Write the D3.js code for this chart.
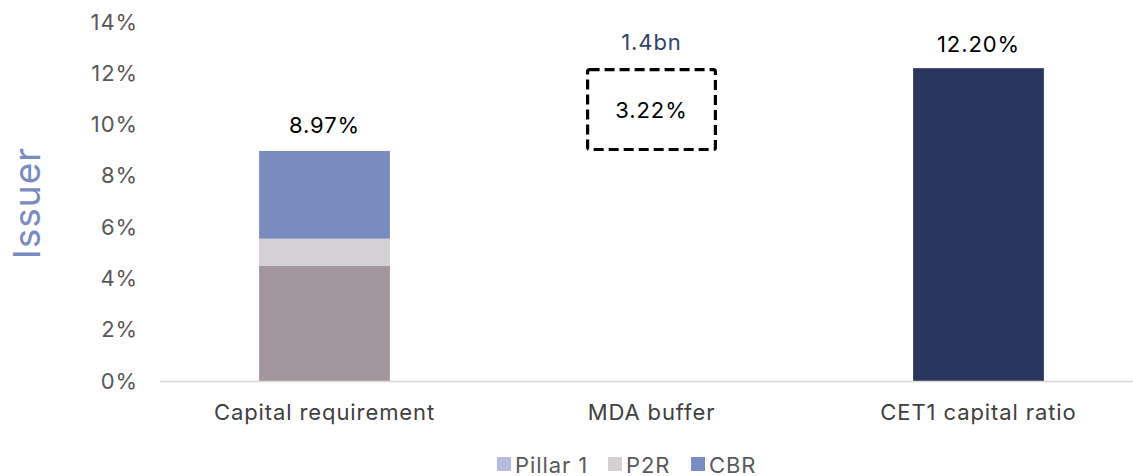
<!DOCTYPE html>
<html lang="en">
<head>
  <meta charset="UTF-8">
  <title>Issuer capital stack</title>
  <script src="https://d3js.org/d3.v7.min.js"></script>
  <style>
    body { margin: 0; background: #fff; font-family: Inter, "Noto Sans", sans-serif; }
    svg { display: block; }
    text { letter-spacing: 0.9px; }
  </style>
</head>
<body>
  <div id="chart"></div>
  <script>
    // categories along the x axis
    const categories = ["Capital requirement", "MDA buffer", "CET1 capital ratio"];

    // capital requirement stack (in %)
    const stackNames = ["Pillar 1", "P2R", "CBR"];
    const stackValues = [4.5, 1.05, 3.42];
    const stackColors = ["#a3979e", "#d5d0d4", "#7a8cbf"];

    // legend swatches as shown under the chart
    const legendNames = ["Pillar 1", "P2R", "CBR"];
    const legendColors = ["#b4bde0", "#d5d0d4", "#7a8cbf"];

    // MDA buffer floats between requirement and CET1 ratio
    const mdaFrom = 8.97;
    const mdaTo = 12.2;
    const mdaLabel = "3.22%";
    const mdaNote = "1.4bn";

    const cet1Value = 12.2;
    const totalLabels = ["8.97%", "12.20%"];

    const yTicks = [0, 2, 4, 6, 8, 10, 12, 14];

    const width = 1133, height = 476;
    const svg = d3.select("#chart").append("svg")
      .attr("width", width)
      .attr("height", height);

    const x = d3.scaleBand()
      .domain(categories)
      .range([161, 1142])
      .paddingInner(0.6)
      .paddingOuter(0.3);

    const y = d3.scaleLinear()
      .domain([0, 14])
      .range([381, 22]);

    // y axis labels
    const yAxis = svg.append("g")
      .attr("transform", "translate(138,0)")
      .call(d3.axisLeft(y).tickValues(yTicks).tickFormat(d => d + "%").tickSize(0).tickPadding(0));
    yAxis.select(".domain").remove();
    yAxis.selectAll("text")
      .attr("font-family", "Inter, sans-serif")
      .attr("font-size", 22)
      .attr("fill", "#595959");

    // y title
    svg.append("text")
      .attr("transform", "translate(40,203) rotate(-90)")
      .attr("text-anchor", "middle")
      .attr("font-size", 37)
      .attr("fill", "#7a8cbf")
      .style("letter-spacing", "1px")
      .text("Issuer");

    // stacked bar for capital requirement
    let acc = 0;
    const stackData = stackValues.map((v, i) => {
      const d = { name: stackNames[i], y0: acc, y1: acc + v, color: stackColors[i] };
      acc += v;
      return d;
    });
    svg.append("g").selectAll("rect")
      .data(stackData)
      .join("rect")
      .attr("x", x(categories[0]))
      .attr("width", x.bandwidth())
      .attr("y", d => y(d.y1))
      .attr("height", d => y(d.y0) - y(d.y1))
      .attr("fill", d => d.color);

    // CET1 bar
    svg.append("rect")
      .attr("x", x(categories[2]))
      .attr("width", x.bandwidth())
      .attr("y", y(cet1Value))
      .attr("height", y(0) - y(cet1Value))
      .attr("fill", "#2b365e");

    // MDA dashed box
    svg.append("rect")
      .attr("x", x(categories[1]) + 1.5)
      .attr("width", x.bandwidth() - 3)
      .attr("y", y(mdaTo) + 1.5)
      .attr("height", y(mdaFrom) - y(mdaTo) - 3)
      .attr("rx", 2)
      .attr("fill", "none")
      .attr("stroke", "#000")
      .attr("stroke-width", 3.2)
      .attr("stroke-dasharray", "10,5");

    const cx = c => x(c) + x.bandwidth() / 2;

    svg.append("text")
      .attr("x", cx(categories[1]))
      .attr("y", y((mdaFrom + mdaTo) / 2) + 8)
      .attr("text-anchor", "middle")
      .attr("font-size", 22)
      .attr("fill", "#000")
      .text(mdaLabel);

    svg.append("text")
      .attr("x", cx(categories[1]))
      .attr("y", y(mdaTo) - 18)
      .attr("text-anchor", "middle")
      .attr("font-size", 22)
      .attr("fill", "#34406b")
      .text(mdaNote);

    // total labels
    svg.append("text")
      .attr("x", cx(categories[0]))
      .attr("y", y(acc) - 18)
      .attr("text-anchor", "middle")
      .attr("font-size", 22)
      .attr("fill", "#000")
      .text(totalLabels[0]);

    svg.append("text")
      .attr("x", cx(categories[2]))
      .attr("y", y(cet1Value) - 16)
      .attr("text-anchor", "middle")
      .attr("font-size", 22)
      .attr("fill", "#000")
      .text(totalLabels[1]);

    // baseline
    svg.append("line")
      .attr("x1", 160).attr("x2", width)
      .attr("y1", y(0) + 0.5).attr("y2", y(0) + 0.5)
      .attr("stroke", "#d9d9d9")
      .attr("stroke-width", 1.5);

    // category labels
    svg.append("g").selectAll("text")
      .data(categories)
      .join("text")
      .attr("x", d => cx(d))
      .attr("y", 420)
      .attr("text-anchor", "middle")
      .attr("font-size", 22)
      .attr("fill", "#404040")
      .text(d => d);

    // legend
    const legendX = [497, 608, 691];
    const legend = svg.append("g").selectAll("g")
      .data(legendNames)
      .join("g")
      .attr("transform", (d, i) => `translate(${legendX[i]},0)`);
    legend.append("rect")
      .attr("y", 457)
      .attr("width", 14)
      .attr("height", 14)
      .attr("fill", (d, i) => legendColors[i]);
    legend.append("text")
      .attr("x", 18)
      .attr("y", 473)
      .attr("font-size", 22)
      .attr("fill", "#595959")
      .text(d => d);
  </script>
</body>
</html>
